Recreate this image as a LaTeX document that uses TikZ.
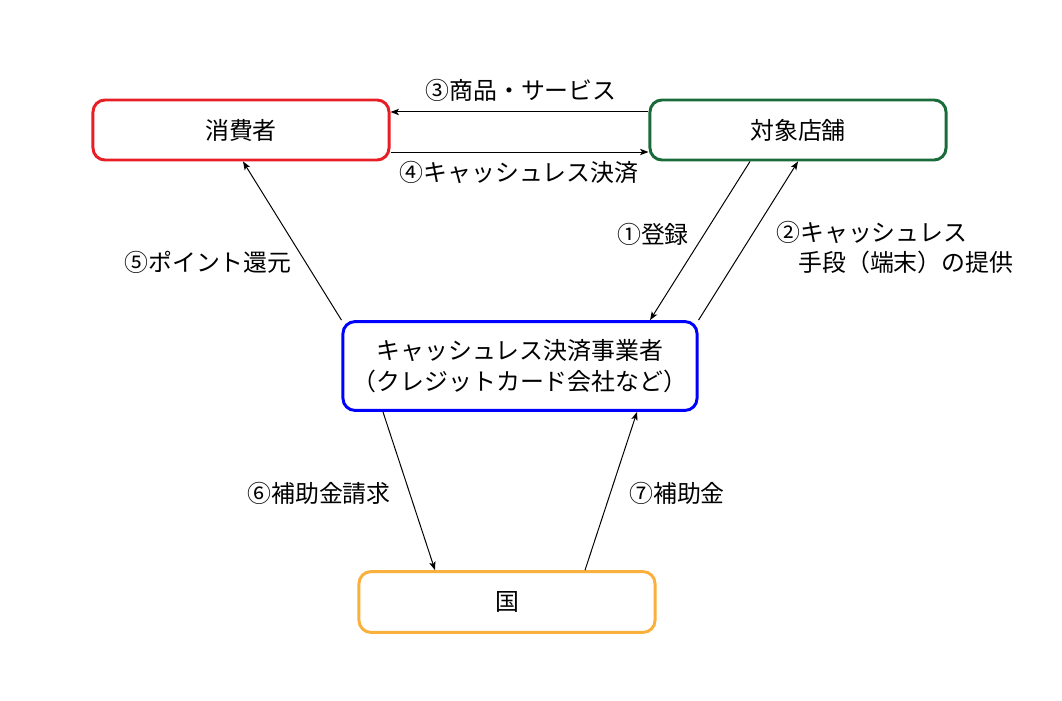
\documentclass[tikz,border=0pt]{standalone}
\usepackage{fontspec}
\setmainfont{Noto Sans CJK JP}
\usetikzlibrary{arrows.meta}
\definecolor{R}{RGB}{232, 30, 38}
\definecolor{G}{RGB}{26, 107, 58}
\definecolor{B}{RGB}{0, 0, 255}
\definecolor{O}{RGB}{250, 176, 60}
\tikzset{
  actor/.style={draw, line width=2.1pt, rounded corners=0.3cm, fill=white,
    minimum width=7.4cm, minimum height=1.5cm, align=center,
    font=\fontsize{17pt}{21.5pt}\selectfont},
  flow/.style={line width=0.7pt, -{Stealth[length=6pt,width=4.5pt,inset=1.5pt]}},
  flowtext/.style={font=\fontsize{17pt}{21.5pt}\selectfont, inner sep=0pt}
}

\begin{document}
\begin{tikzpicture}[x=0.025cm, y=-0.025cm]
  \useasboundingbox (0,0) rectangle (1062,701);

  %# ACTORES
  \node[actor, draw=R] (shop) at (241,130) {消費者};
  \node[actor, draw=G] (store) at (798,130) {対象店舗};
  \node[actor, draw=B, minimum width=8.85cm, minimum height=2.22cm] (op) at (520,366)
    {キャッシュレス決済事業者\\（クレジットカード会社など）};
  \node[actor, draw=O, minimum height=1.52cm] (gov) at (507,602) {国};

  %# FLUJOS ENTRE CONSUMIDOR Y TIENDA
  \draw[flow] ([yshift=0.45cm]store.west) -- ([yshift=0.45cm]shop.east);
  \draw[flow] ([yshift=-0.55cm]shop.east) -- ([yshift=-0.55cm]store.west);
  \node[flowtext] (l3) at (521,90) {③商品・サービス};
  \node[flowtext] (l4) at (519,172) {④キャッシュレス決済};

  %# FLUJOS CON EL OPERADOR
  \draw[flow] (op.north west) -- ([xshift=0.05cm]shop.south);
  \draw[flow] ([xshift=-1.2cm]store.south) -- ([xshift=3.25cm]op.north);
  \draw[flow] (op.north east) -- (store.south);
  \node[flowtext] (l5) at (208,262) {⑤ポイント還元};
  \node[flowtext] (l1) at (653,234) {①登録};
  \node[flowtext, anchor=north west, align=left] (l2) at (776,221)
    {②キャッシュレス\\\hspace*{0.55cm}手段（端末）の提供};

  %# FLUJOS CON EL ESTADO
  \draw[flow] ([xshift=-3.425cm]op.south) -- ([xshift=-1.8cm]gov.north);
  \draw[flow] ([xshift=1.95cm]gov.north) -- ([xshift=2.925cm]op.south);
  \node[flowtext] (l6) at (319,493) {⑥補助金請求};
  \node[flowtext] (l7) at (677,493) {⑦補助金};
\end{tikzpicture}
\end{document}
